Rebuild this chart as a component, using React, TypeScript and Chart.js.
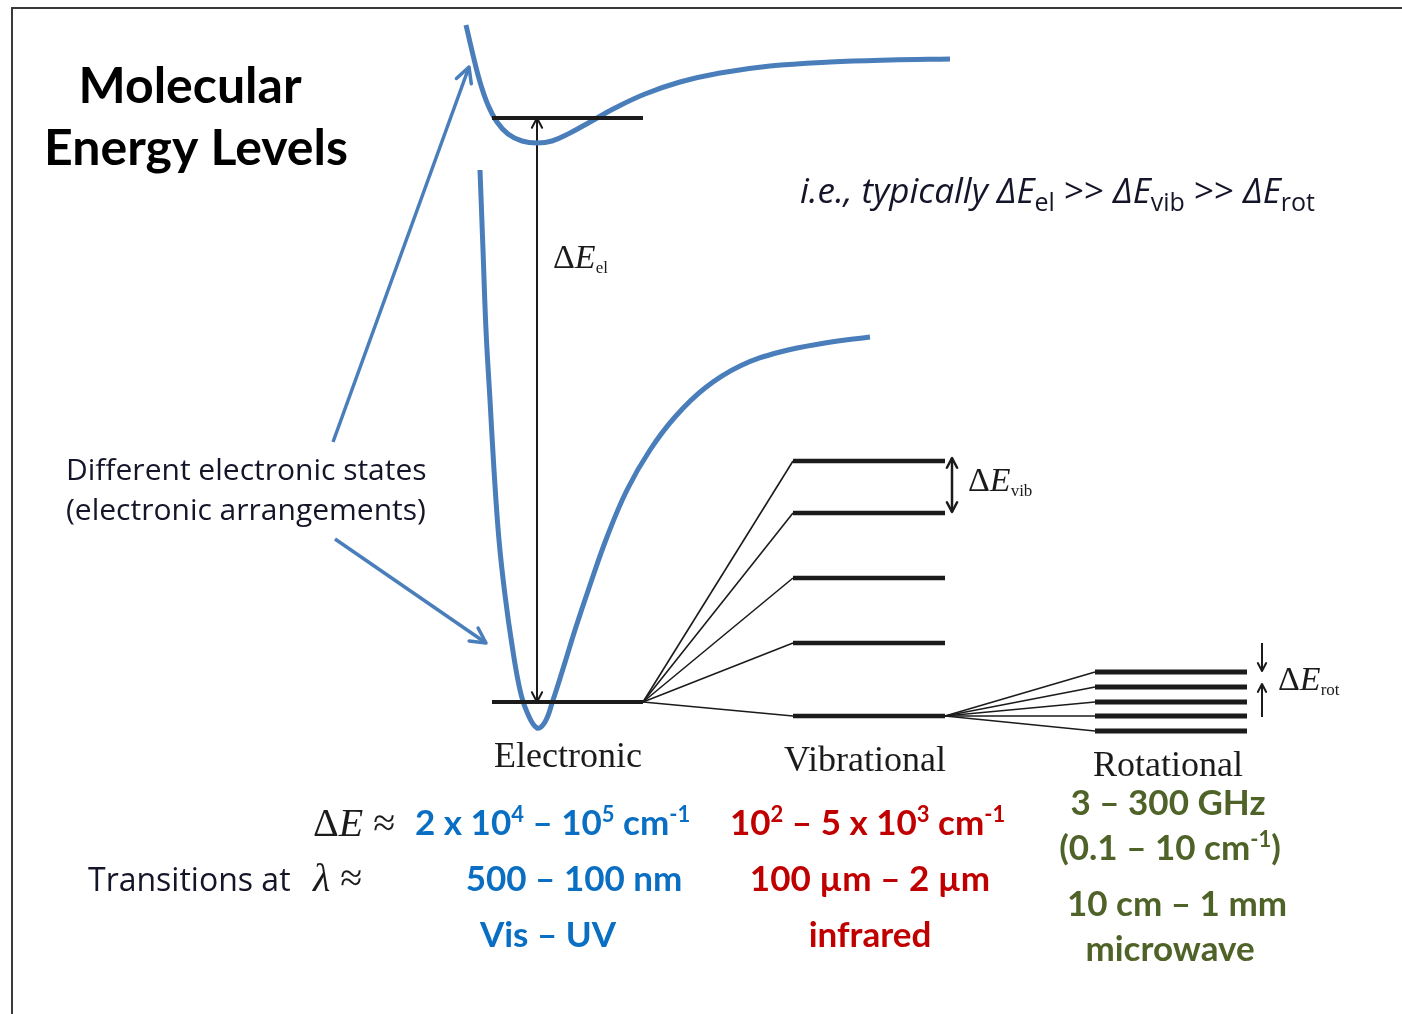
import React, { useEffect, useRef } from "react";
import { Chart, registerables } from "chart.js";

Chart.register(...registerables);

// ---- Data (diagram coordinates: x to the right, y = energy drawn downward) ----
const upperCurveX = [466, 473, 480, 488, 497, 508, 522, 537, 552, 570, 590, 615, 645, 680, 720, 770, 830, 890, 950];
const upperCurveY = [25, 55, 82, 105, 122, 134, 141, 143, 141, 133, 122, 108, 94, 82, 73, 66, 62, 60, 59];

const lowerCurveX = [480, 483, 486, 490, 494, 499, 505, 512, 520, 527, 537, 545, 553, 562, 575, 590, 607, 627, 650, 675, 705, 740, 780, 825, 870];
const lowerCurveY = [170, 250, 330, 400, 470, 540, 595, 645, 690, 712, 728, 722, 700, 672, 630, 585, 537, 490, 450, 417, 388, 366, 352, 343, 337];

const electronicLevelY = [118, 702];
const electronicLevelX = [492, 643];
const vibLevelY = [461, 513, 578, 643, 716];
const vibLevelX = [793, 945];
const rotLevelY = [672, 687, 702, 716, 731];
const rotLevelX = [1095, 1247];

const categoryLabels = ["Electronic", "Vibrational", "Rotational"];
const titleLines = ["Molecular", "Energy Levels"];
const noteLines = ["Different electronic states", "(electronic arrangements)"];
const electronicInfo = ["2 x 10", "4", " \u2013 10", "5", " cm", "-1", "500 \u2013 100 nm", "Vis \u2013 UV"];
const vibrationalInfo = ["10", "2", " \u2013 5 x 10", "3", " cm", "-1", "100 \u00b5m \u2013 2 \u00b5m", "infrared"];
const rotationalInfo = ["3 \u2013 300 GHz", "(0.1 \u2013 10 cm", "-1", ")", "10 cm \u2013 1 mm", "microwave"];

const BLUE_LINE = "#4a7ebb";
const BLUE_TXT = "#0a6fc2";
const RED_TXT = "#c00000";
const GREEN_TXT = "#4f6228";
const INK = "#1b1b1b";

type Part = { t: string; font: string; color: string; dy?: number };

function drawRich(ctx: CanvasRenderingContext2D, x: number, y: number, parts: Part[], align: "left" | "center" | "right" = "left") {
  let total = 0;
  for (const p of parts) {
    ctx.font = p.font;
    total += ctx.measureText(p.t).width;
  }
  let cx = align === "center" ? x - total / 2 : align === "right" ? x - total : x;
  ctx.textAlign = "left";
  ctx.textBaseline = "alphabetic";
  for (const p of parts) {
    ctx.font = p.font;
    ctx.fillStyle = p.color;
    ctx.fillText(p.t, cx, y + (p.dy || 0));
    cx += ctx.measureText(p.t).width;
  }
}

const sans = (s: number, w = "normal", st = "normal") => `${st} ${w} ${s}px Lato, "Open Sans", sans-serif`;
const open = (s: number, w = "normal", st = "normal") => `${st} ${w} ${s}px "Open Sans", Lato, sans-serif`;
const serif = (s: number, st = "normal") => `${st} normal ${s}px "Liberation Serif", "DejaVu Serif", serif`;

function pts(xs: number[], ys: number[]) {
  return xs.map((x, i) => ({ x, y: ys[i] }));
}

function seg(x1: number, y1: number, x2: number, y2: number) {
  return [{ x: x1, y: y1 }, { x: x2, y: y2 }];
}

const App = () => {
  const ref = useRef<HTMLCanvasElement | null>(null);

  useEffect(() => {
    if (!ref.current) return;

    const datasets: any[] = [];
    const addLine = (data: any[], color: string, width: number, tension = 0) => {
      datasets.push({ data, borderColor: color, borderWidth: width, showLine: true, tension, pointRadius: 0, fill: false, borderCapStyle: "butt" });
    };

    // frame
    addLine([{ x: 12, y: 1014 }, { x: 12, y: 8 }, { x: 1402, y: 8 }], "#3a3a3a", 2);

    // electronic levels
    for (const ly of electronicLevelY) addLine(seg(electronicLevelX[0], ly, electronicLevelX[1], ly), INK, 4);
    // vib connectors + levels
    const gY = electronicLevelY[1];
    for (const ly of vibLevelY) addLine(seg(electronicLevelX[1], gY, vibLevelX[0], ly), INK, 1.6);
    for (const ly of vibLevelY) addLine(seg(vibLevelX[0], ly, vibLevelX[1], ly), INK, 4.5);
    // rot connectors + levels
    const vY = vibLevelY[vibLevelY.length - 1];
    for (const ly of rotLevelY) addLine(seg(vibLevelX[1], vY, rotLevelX[0], ly), INK, 1.6);
    for (const ly of rotLevelY) addLine(seg(rotLevelX[0], ly, rotLevelX[1], ly), INK, 5);

    // potential curves
    addLine(pts(upperCurveX, upperCurveY), BLUE_LINE, 5, 0.4);
    addLine(pts(lowerCurveX, lowerCurveY), BLUE_LINE, 5, 0.4);

    // arrows (shafts)
    const arrows: { from: number[]; to: number[]; color: string; w: number; head: number; heads: ("start" | "end")[] }[] = [
      { from: [333, 442], to: [469, 67], color: BLUE_LINE, w: 3.5, head: 17, heads: ["end"] },
      { from: [335, 539], to: [486, 643], color: BLUE_LINE, w: 3.5, head: 17, heads: ["end"] },
      { from: [537, electronicLevelY[1]], to: [537, electronicLevelY[0]], color: INK, w: 2, head: 11, heads: ["start", "end"] },
      { from: [952, vibLevelY[1] - 1], to: [952, vibLevelY[0] - 3], color: INK, w: 2.5, head: 11, heads: ["start", "end"] },
      { from: [1262, 643], to: [1262, rotLevelY[0] - 1], color: INK, w: 2, head: 9, heads: ["end"] },
      { from: [1262, 717], to: [1262, rotLevelY[1] - 3], color: INK, w: 2, head: 9, heads: ["end"] },
    ];
    for (const a of arrows) addLine(seg(a.from[0], a.from[1], a.to[0], a.to[1]), a.color, a.w);

    const overlay = {
      id: "overlay",
      afterDatasetsDraw(chart: any) {
        const ctx: CanvasRenderingContext2D = chart.ctx;
        const xs = chart.scales.x;
        const ys = chart.scales.y;
        const X = (v: number) => xs.getPixelForValue(v);
        const Y = (v: number) => ys.getPixelForValue(v);
        ctx.save();

        // arrow heads
        const head = (tip: number[], tail: number[], size: number, color: string, w: number) => {
          const ang = Math.atan2(Y(tip[1]) - Y(tail[1]), X(tip[0]) - X(tail[0]));
          const spread = Math.PI / 6.5;
          ctx.strokeStyle = color;
          ctx.lineWidth = w;
          ctx.lineCap = "round";
          ctx.lineJoin = "round";
          ctx.beginPath();
          ctx.moveTo(X(tip[0]) - size * Math.cos(ang - spread), Y(tip[1]) - size * Math.sin(ang - spread));
          ctx.lineTo(X(tip[0]), Y(tip[1]));
          ctx.lineTo(X(tip[0]) - size * Math.cos(ang + spread), Y(tip[1]) - size * Math.sin(ang + spread));
          ctx.stroke();
        };
        for (const a of arrows) {
          if (a.heads.includes("end")) head(a.to, a.from, a.head, a.color, a.w);
          if (a.heads.includes("start")) head(a.from, a.to, a.head, a.color, a.w);
        }

        // Title
        drawRich(ctx, X(190), Y(103), [{ t: titleLines[0], font: sans(50, "bold"), color: "#000" }], "center");
        drawRich(ctx, X(196), Y(165), [{ t: titleLines[1], font: sans(50, "bold"), color: "#000" }], "center");

        // relation note
        const it = open(35, "normal", "italic");
        const its = open(25);
        const gt = open(35);
        const noteC = "#15152a";
        drawRich(ctx, X(800), Y(203), [
          { t: "i.e., typically \u0394E", font: it, color: noteC },
          { t: "el", font: its, color: noteC, dy: 8 },
          { t: " >> ", font: gt, color: noteC },
          { t: "\u0394E", font: it, color: noteC },
          { t: "vib", font: its, color: noteC, dy: 8 },
          { t: " >> ", font: gt, color: noteC },
          { t: "\u0394E", font: it, color: noteC },
          { t: "rot", font: its, color: noteC, dy: 8 },
        ]);

        // electronic states note
        drawRich(ctx, X(66), Y(480), [{ t: noteLines[0], font: open(30), color: noteC }]);
        drawRich(ctx, X(66), Y(520), [{ t: noteLines[1], font: open(30), color: noteC }]);

        // Delta E labels
        const dE = (x: number, y: number, sub: string, s: number) =>
          drawRich(ctx, X(x), Y(y), [
            { t: "\u0394", font: serif(s), color: INK },
            { t: "E", font: serif(s, "italic"), color: INK },
            { t: sub, font: serif(Math.round(s * 0.5)), color: INK, dy: 5 },
          ]);
        dE(553, 268, "el", 34);
        dE(968, 491, "vib", 34);
        dE(1278, 690, "rot", 34);

        // category labels
        drawRich(ctx, X(568), Y(767), [{ t: categoryLabels[0], font: serif(36), color: INK }], "center");
        drawRich(ctx, X(865), Y(771), [{ t: categoryLabels[1], font: serif(36), color: INK }], "center");
        drawRich(ctx, X(1168), Y(776), [{ t: categoryLabels[2], font: serif(36), color: INK }], "center");

        // bottom info
        const B = 35;
        const bf = sans(B, "bold");
        const sf = sans(Math.round(B * 0.62), "bold");
        const up = -Math.round(B * 0.38);

        drawRich(ctx, X(313), Y(836), [
          { t: "\u0394", font: serif(40), color: INK },
          { t: "E", font: serif(40, "italic"), color: INK },
          { t: " \u2248", font: serif(40), color: INK },
        ]);
        drawRich(ctx, X(415), Y(835), [
          { t: electronicInfo[0], font: bf, color: BLUE_TXT },
          { t: electronicInfo[1], font: sf, color: BLUE_TXT, dy: up },
          { t: electronicInfo[2], font: bf, color: BLUE_TXT },
          { t: electronicInfo[3], font: sf, color: BLUE_TXT, dy: up },
          { t: electronicInfo[4], font: bf, color: BLUE_TXT },
          { t: electronicInfo[5], font: sf, color: BLUE_TXT, dy: up },
        ]);
        drawRich(ctx, X(730), Y(835), [
          { t: vibrationalInfo[0], font: bf, color: RED_TXT },
          { t: vibrationalInfo[1], font: sf, color: RED_TXT, dy: up },
          { t: vibrationalInfo[2], font: bf, color: RED_TXT },
          { t: vibrationalInfo[3], font: sf, color: RED_TXT, dy: up },
          { t: vibrationalInfo[4], font: bf, color: RED_TXT },
          { t: vibrationalInfo[5], font: sf, color: RED_TXT, dy: up },
        ]);

        drawRich(ctx, X(88), Y(891), [{ t: "Transitions at", font: open(32), color: noteC }]);
        drawRich(ctx, X(313), Y(891), [
          { t: "\u03bb", font: serif(40, "italic"), color: INK },
          { t: " \u2248", font: serif(40), color: INK },
        ]);
        drawRich(ctx, X(574), Y(891), [{ t: electronicInfo[6], font: bf, color: BLUE_TXT }], "center");
        drawRich(ctx, X(870), Y(891), [{ t: vibrationalInfo[6], font: bf, color: RED_TXT }], "center");
        drawRich(ctx, X(548), Y(947), [{ t: electronicInfo[7], font: bf, color: BLUE_TXT }], "center");
        drawRich(ctx, X(870), Y(947), [{ t: vibrationalInfo[7], font: bf, color: RED_TXT }], "center");

        drawRich(ctx, X(1168), Y(815), [{ t: rotationalInfo[0], font: bf, color: GREEN_TXT }], "center");
        drawRich(ctx, X(1170), Y(860), [
          { t: rotationalInfo[1], font: bf, color: GREEN_TXT },
          { t: rotationalInfo[2], font: sf, color: GREEN_TXT, dy: up },
          { t: rotationalInfo[3], font: bf, color: GREEN_TXT },
        ], "center");
        drawRich(ctx, X(1177), Y(916), [{ t: rotationalInfo[4], font: bf, color: GREEN_TXT }], "center");
        drawRich(ctx, X(1170), Y(961), [{ t: rotationalInfo[5], font: bf, color: GREEN_TXT }], "center");

        ctx.restore();
      },
    };

    const chart = new Chart(ref.current, {
      type: "scatter",
      data: { datasets },
      options: {
        animation: false,
        responsive: false,
        maintainAspectRatio: false,
        devicePixelRatio: 1,
        layout: { padding: 0 },
        events: [],
        scales: {
          x: { type: "linear", min: 0, max: 1402, display: false },
          y: { type: "linear", min: 0, max: 1014, reverse: true, display: false },
        },
        plugins: { legend: { display: false }, tooltip: { enabled: false }, title: { display: false } },
        elements: { point: { radius: 0 }, line: { capBezierPoints: true } },
      },
      plugins: [overlay],
    } as any);

    return () => chart.destroy();
  }, []);

  return (
    <div style={{ position: "absolute", left: 0, top: 0, width: 1402, height: 1014, background: "#fff" }}>
      <canvas ref={ref} width={1402} height={1014} style={{ display: "block", width: 1402, height: 1014 }} />
    </div>
  );
};

export default App;
